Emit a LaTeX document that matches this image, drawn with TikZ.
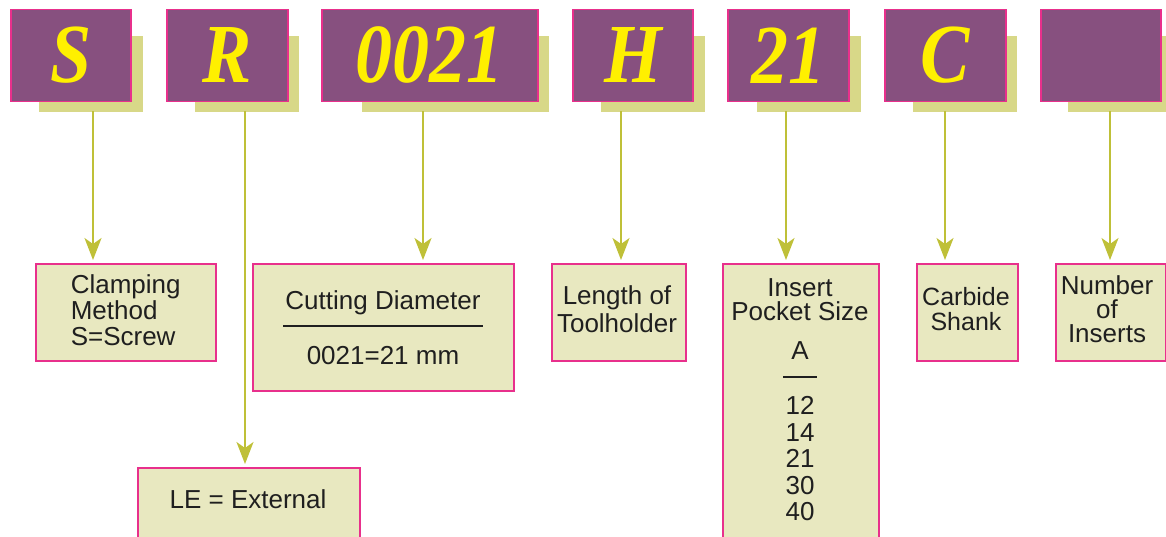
\documentclass[tikz,border=0pt]{standalone}
\usepackage{fontspec}
\setmainfont{Liberation Sans}
\newfontfamily\codefont[FakeStretch=0.88]{Liberation Serif}
\usepackage{tikz}
\usetikzlibrary{arrows.meta}

\definecolor{codepurple}{HTML}{87507F}
\definecolor{edgepink}{HTML}{E8308C}
\definecolor{shadeolive}{HTML}{D8D888}
\definecolor{notefill}{HTML}{E8E8C0}
\definecolor{arrowolive}{HTML}{BFC038}
\definecolor{codeyellow}{HTML}{FFF000}

\begin{document}
\begin{tikzpicture}[x=1pt, y=-1pt, line width=1.5pt,
    codebox/.style={draw=edgepink, fill=codepurple, inner sep=0pt, anchor=north west,
        minimum height=92pt, text=codeyellow,
        font=\codefont\bfseries\itshape\fontsize{84}{84}\selectfont},
    shade/.style={fill=shadeolive, inner sep=0pt, anchor=north west, minimum height=76pt},
    notebox/.style={draw=edgepink, fill=notefill, inner sep=0pt, anchor=north west},
    notetext/.style={inner sep=0pt, text=black!88, align=center, font=\fontsize{26}{#1}\selectfont},
    notetext/.default=26,
    link/.style={draw=arrowolive, line width=2pt, -{Stealth[length=22pt, width=17pt, inset=6pt]}, shorten >=3pt}]
    \useasboundingbox (0, 0) rectangle (1166, 536);
    \clip (0, 0) rectangle (1166, 536);

    % draw shadows
    \node[shade, minimum width=104pt] (shS) at (38, 35) {};
    \node[shade, minimum width=104pt] (shR) at (194, 35) {};
    \node[shade, minimum width=187pt] (shD) at (361, 35) {};
    \node[shade, minimum width=104pt] (shH) at (600, 35) {};
    \node[shade, minimum width=104pt] (shN) at (756, 35) {};
    \node[shade, minimum width=104pt] (shC) at (912, 35) {};
    \node[shade, minimum width=104pt] (shX) at (1067, 35) {};

    % draw code boxes
    \node[codebox, minimum width=120pt] (codeS) at (10, 8.5) {S};
    \node[codebox, minimum width=121pt] (codeR) at (166, 8.5) {R};
    \node[codebox, minimum width=216pt] (codeD) at (321, 8.5) {0021};
    \node[codebox, minimum width=120pt] (codeH) at (572, 8.5) {H};
    \node[codebox, minimum width=121pt] (codeN) at (727, 8.5) {21};
    \node[codebox, minimum width=121pt] (codeC) at (884, 8.5) {C};
    \node[codebox, minimum width=120pt] (codeX) at (1040, 8.5) {};

    % draw note boxes
    \node[notebox, minimum width=180pt, minimum height=97pt] (clamp) at (35, 263) {};
    \node[notebox, minimum width=222pt, minimum height=90pt] (ext) at (137, 467) {};
    \node[notebox, minimum width=261pt, minimum height=127pt] (diam) at (252, 263) {};
    \node[notebox, minimum width=134pt, minimum height=97pt] (len) at (551, 263) {};
    \node[notebox, minimum width=156pt, minimum height=300pt] (pocket) at (722, 263) {};
    \node[notebox, minimum width=101pt, minimum height=97pt] (shank) at (916, 263) {};
    \node[notebox, minimum width=110pt, minimum height=97pt] (inserts) at (1055, 263) {};

    % draw note texts
    \node[notetext, align=left, anchor=north west] (clampT) at (70, 274) {Clamping\\Method\\S=Screw};
    \node[notetext, anchor=base] (extT) at (248, 508) {LE = External};
    \node[notetext, anchor=base] (diamA) at (383, 309) {Cutting Diameter};
    \draw[black!88] (283, 326) -- (483, 326);
    \node[notetext, anchor=base] (diamB) at (383, 364) {0021=21 mm};
    \node[notetext=28, anchor=north] (lenT) at (617, 285) {Length of\\Toolholder};
    \node[notetext=24, anchor=north] (pocketT) at (800, 278) {Insert\\Pocket Size};
    \node[notetext, anchor=base] (pocketA) at (800, 359) {A};
    \draw[black!88] (783, 377) -- (817, 377);
    \node[notetext=26.5, anchor=north] (pocketN) at (800, 396) {12\\14\\21\\30\\40};
    \node[notetext=24.5, anchor=north, font=\fontsize{25}{24.5}\selectfont] (shankT) at (966, 287) {Carbide\\Shank};
    \node[notetext=24, anchor=north] (insertsT) at (1107, 275) {Number\\of\\Inserts};

    % draw arrows
    \coordinate (outS) at (93, 111);
    \coordinate (outR) at (245, 111);
    \coordinate (outD) at (423, 111);
    \coordinate (outH) at (621, 111);
    \coordinate (outN) at (786, 111);
    \coordinate (outC) at (945, 111);
    \coordinate (outX) at (1110, 111);
    \draw[link] (outS) -- (outS |- clamp.north);
    \draw[link] (outR) -- (outR |- ext.north);
    \draw[link] (outD) -- (outD |- diam.north);
    \draw[link] (outH) -- (outH |- len.north);
    \draw[link] (outN) -- (outN |- pocket.north);
    \draw[link] (outC) -- (outC |- shank.north);
    \draw[link] (outX) -- (outX |- inserts.north);
\end{tikzpicture}
\end{document}
